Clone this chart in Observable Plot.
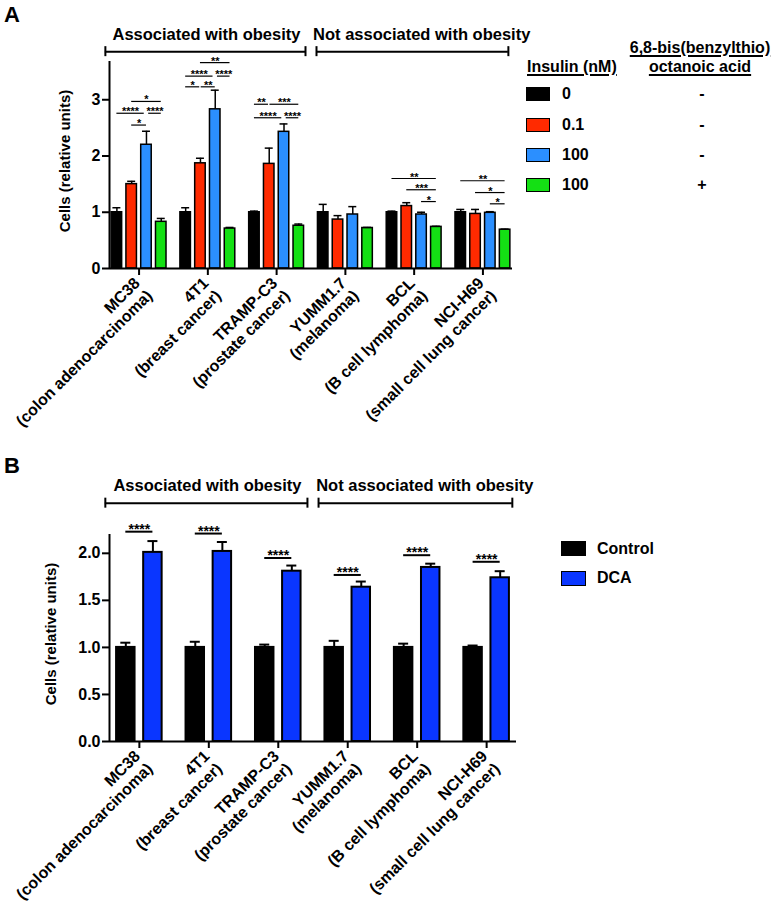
<!DOCTYPE html>
<html><head><meta charset="utf-8">
<script src="https://cdn.jsdelivr.net/npm/d3@7"></script>
<script src="https://cdn.jsdelivr.net/npm/@observablehq/plot@0.6"></script>
<style>
body{margin:0;background:#fff;}
#fig{position:relative;width:777px;height:904px;background:#fff;font-family:"Liberation Sans",Arial,sans-serif;font-weight:bold;color:#000;overflow:hidden;}
#fig svg{position:absolute;left:0;}
.abs{position:absolute;white-space:nowrap;line-height:16px;font-size:16px;}
.u{text-decoration:underline;text-decoration-thickness:1.5px;text-underline-offset:2px;}
.box{position:absolute;box-sizing:border-box;border:1.5px solid #000;}
</style></head><body><div id="fig"></div>
<script>
// ---------- shared categories ----------
const cellLines = ["MC38\n(colon adenocarcinoma)", "4T1\n(breast cancer)", "TRAMP-C3\n(prostate cancer)",
                   "YUMM1.7\n(melanoma)", "BCL\n(B cell lymphoma)", "NCI-H69\n(small cell lung cancer)"];
const groupNames = ["Associated with obesity", "Not associated with obesity"];
const groupStart = [-0.49, 2.58];
const groupEnd = [2.42, 5.37];
const groupLabelX = [0.98, 4.11];
const yTitle = "Cells (relative units)";

// ---------- panel A data ----------
const condA = ["0", "0.1", "100", "100 + inhibitor"];
const insulinLabels = ["0", "0.1", "100", "100"];
const inhibitorSigns = ["-", "-", "-", "+"];
const inhibitorTitle = ["6,8-bis(benzylthio)", "octanoic acid"];
const colorsA = ["#000000", "#ff2a00", "#2b8fff", "#14e014"];
const meanA = [
  [1.00, 1.50, 2.20, 0.83],
  [1.00, 1.87, 2.83, 0.71],
  [1.00, 1.86, 2.43, 0.76],
  [1.00, 0.87, 0.96, 0.72],
  [1.00, 1.11, 0.96, 0.74],
  [1.00, 0.97, 0.99, 0.69]
];
const semA = [
  [0.08, 0.05, 0.24, 0.06],
  [0.08, 0.09, 0.34, 0.02],
  [0.02, 0.28, 0.14, 0.03],
  [0.14, 0.07, 0.14, 0.01],
  [0.02, 0.06, 0.04, 0.01],
  [0.05, 0.08, 0.02, 0.01]
];
const yTicksA = [0, 1, 2, 3];
// [cell line, from condition, to condition, level, stars]
const sigA = [
  [0, 1, 3, 2.97, "*"],
  [0, 0, 1.85, 2.76, "****"],
  [0, 2.15, 3, 2.76, "****"],
  [0, 1, 2, 2.55, "*"],
  [1, 1, 3, 3.66, "**"],
  [1, 0, 1.85, 3.42, "****"],
  [1, 2.15, 3, 3.42, "****"],
  [1, 0, 0.95, 3.23, "*"],
  [1, 1.05, 2, 3.23, "**"],
  [2, 0, 0.95, 2.92, "**"],
  [2, 1.05, 3, 2.92, "***"],
  [2, 0, 1.85, 2.68, "****"],
  [2, 2.15, 3, 2.68, "****"],
  [4, 0, 3, 1.60, "**"],
  [4, 1, 3, 1.40, "***"],
  [4, 2, 3, 1.19, "*"],
  [5, 0, 3, 1.56, "**"],
  [5, 1, 3, 1.35, "*"],
  [5, 2, 3, 1.15, "*"]
];

// ---------- panel B data ----------
const condB = ["Control", "DCA"];
const colorsB = ["#000000", "#0a36ff"];
const meanB = [
  [1.00, 2.01],
  [1.00, 2.02],
  [1.00, 1.81],
  [1.00, 1.64],
  [1.00, 1.85],
  [1.00, 1.74]
];
const semB = [
  [0.05, 0.12],
  [0.06, 0.10],
  [0.03, 0.06],
  [0.07, 0.06],
  [0.04, 0.04],
  [0.02, 0.07]
];
const yTicksB = [0, 0.5, 1.0, 1.5, 2.0];
// [cell line, level, stars]
const sigB = [
  [0, 2.23, "****"],
  [1, 2.21, "****"],
  [2, 1.95, "****"],
  [3, 1.77, "****"],
  [4, 1.98, "****"],
  [5, 1.91, "****"]
];

// ---------- layout ----------
const W = 777;
const xDomain = [-0.43, 5.43];
const FONT = "font-family:'Liberation Sans',Arial,sans-serif;font-weight:bold;background:transparent;overflow:visible;";

function panel(cfg) {
  const {height, mt, mb, ml, mr, ymax, cond, colors, mean, sem, pos, bw, cap, yTicks, tickFmt,
         bracketY, sigMarks, titleDx, tickFont, barStroke, errW} = cfg;
  const pxY = (height - mt - mb) / ymax;
  const capY = 5 / pxY;
  const bars = mean.flatMap((row, g) => row.map((v, c) => ({g, c, v, e: sem[g][c]})));
  const groupCaps = [groupStart[0], groupEnd[0], groupStart[1], groupEnd[1]];
  return Plot.plot({
    width: W, height, marginTop: mt, marginBottom: mb, marginLeft: ml, marginRight: mr,
    style: FONT,
    x: {type: "linear", domain: xDomain, axis: null},
    y: {domain: [0, ymax], axis: null},
    color: {domain: cond, range: colors},
    marks: [
      Plot.ruleY(groupNames, {x1: (d, i) => groupStart[i], x2: (d, i) => groupEnd[i], y: bracketY, strokeWidth: 2}),
      Plot.ruleX(groupCaps, {x: d => d, y1: bracketY - capY, y2: bracketY + capY, strokeWidth: 2}),
      Plot.text(groupNames, {x: (d, i) => groupLabelX[i], y: bracketY, dy: -12, lineAnchor: "bottom", fontSize: 16.5, fill: "black"}),
      Plot.rect(bars, {x1: d => d.g + pos(d.c) - bw / 2, x2: d => d.g + pos(d.c) + bw / 2,
                       y1: 0, y2: "v", fill: d => cond[d.c], stroke: "black", strokeWidth: barStroke}),
      Plot.ruleX(bars, {x: d => d.g + pos(d.c), y1: "v", y2: d => d.v + d.e, strokeWidth: errW}),
      Plot.ruleY(bars, {x1: d => d.g + pos(d.c) - cap, x2: d => d.g + pos(d.c) + cap, y: d => d.v + d.e, strokeWidth: errW}),
      ...sigMarks,
      Plot.ruleX([xDomain[0]], {y1: 0, y2: ymax, strokeWidth: 2}),
      Plot.ruleY([0], {x1: xDomain[0], x2: xDomain[1], strokeWidth: 2}),
      Plot.axisY(yTicks, {tickSize: 7, tickPadding: 2, fontSize: tickFont, label: null, strokeWidth: 2, tickFormat: tickFmt}),
      Plot.axisX(d3.range(cellLines.length), {tickSize: 7, tickFormat: () => "", label: null, strokeWidth: 2}),
      Plot.text(cellLines, {x: (d, i) => i, y: 0, rotate: -45, textAnchor: "end", lineAnchor: "middle",
                            dx: 4, dy: 18, fontSize: 16, lineHeight: 1.1, fill: "black", ariaLabel: "cell-line-labels"}),
      Plot.text([yTitle], {frameAnchor: "left", rotate: -90, dx: titleDx, dy: -4, fontSize: 15,
                           textAnchor: "middle", lineAnchor: "middle", fill: "black"})
    ]
  });
}

const posA = c => (c - 1.5) * 0.215;
const posB = c => (c - 0.5) * 0.39;

const plotA = panel({
  height: 450, mt: 61, mb: 182, ml: 109, mr: W - 512, ymax: 3.68,
  cond: condA, colors: colorsA, mean: meanA, sem: semA, pos: posA, bw: 0.153, cap: 0.058,
  yTicks: yTicksA, tickFmt: d3.format("d"), bracketY: 3.855, titleDx: -44, tickFont: 16, barStroke: 1.5, errW: 1.5,
  sigMarks: [
    Plot.ruleY(sigA, {x1: d => d[0] + posA(d[1]), x2: d => d[0] + posA(d[2]), y: d => d[3], strokeWidth: 1.2}),
    Plot.text(sigA, {x: d => d[0] + (posA(d[1]) + posA(d[2])) / 2, y: d => d[3], text: d => d[4],
                     lineAnchor: "bottom", dy: 2, fontSize: 11, fill: "black"})
  ]
});

const plotB = panel({
  height: 454, mt: 84, mb: 163, ml: 109, mr: W - 516, ymax: 2.2,
  cond: condB, colors: colorsB, mean: meanB, sem: semB, pos: posB, bw: 0.266, cap: 0.072,
  yTicks: yTicksB, tickFmt: d3.format(".1f"), bracketY: 2.533, titleDx: -58, tickFont: 16, barStroke: 2, errW: 2,
  sigMarks: [
    Plot.ruleY(sigB, {x1: d => d[0] + posB(0), x2: d => d[0] + posB(1), y: d => d[1], strokeWidth: 2}),
    Plot.text(sigB, {x: d => d[0], y: d => d[1], text: d => d[2], lineAnchor: "bottom", dy: 2, fontSize: 14, fill: "black"})
  ]
});

const fig = document.getElementById("fig");
plotA.style.top = "0px";
plotB.style.top = "450px";
fig.appendChild(plotA);
fig.appendChild(plotB);

// centre each line of the rotated two-line category labels on one another
for (const svg of [plotA, plotB]) {
  svg.querySelectorAll('g[aria-label="cell-line-labels"] text').forEach(t => {
    const spans = t.querySelectorAll("tspan");
    if (!spans.length) return;
    let w = 0;
    spans.forEach(s => { w = Math.max(w, s.getComputedTextLength()); });
    t.setAttribute("text-anchor", "middle");
    spans.forEach(s => s.setAttribute("x", -w / 2));
  });
}

// ---------- HTML labels & legends ----------
function add(html, style, cls = "abs") {
  const d = document.createElement("div");
  d.className = cls;
  d.textContent = html;
  Object.assign(d.style, style);
  fig.appendChild(d);
  return d;
}
add("A", {left: "4px", top: "4px", fontSize: "22px", lineHeight: "22px"});
add("B", {left: "4px", top: "455px", fontSize: "22px", lineHeight: "22px"});

// legend A
add("Insulin (nM)", {left: "527px", top: "59px"}, "abs u");
add(inhibitorTitle[0], {left: "600px", width: "200px", textAlign: "center", top: "40px"}, "abs u");
add(inhibitorTitle[1], {left: "600px", width: "200px", textAlign: "center", top: "58.5px"}, "abs u");
const rowA = [94, 124.5, 155, 185];
condA.forEach((c, i) => {
  add("", {left: "526px", top: (rowA[i] - 7) + "px", width: "24px", height: "14px", background: colorsA[i]}, "box");
  add(insulinLabels[i], {left: "562px", top: (rowA[i] - 8) + "px"});
  add(inhibitorSigns[i], {left: "680px", width: "44px", textAlign: "center", top: (rowA[i] - 8) + "px"});
});

// legend B
const rowB = [548.5, 578];
condB.forEach((c, i) => {
  add("", {left: "561px", top: (rowB[i] - 7.5) + "px", width: "25px", height: "15px", background: colorsB[i]}, "box");
  add(c, {left: "597px", top: (rowB[i] - 8) + "px"});
});
</script>
</body></html>
